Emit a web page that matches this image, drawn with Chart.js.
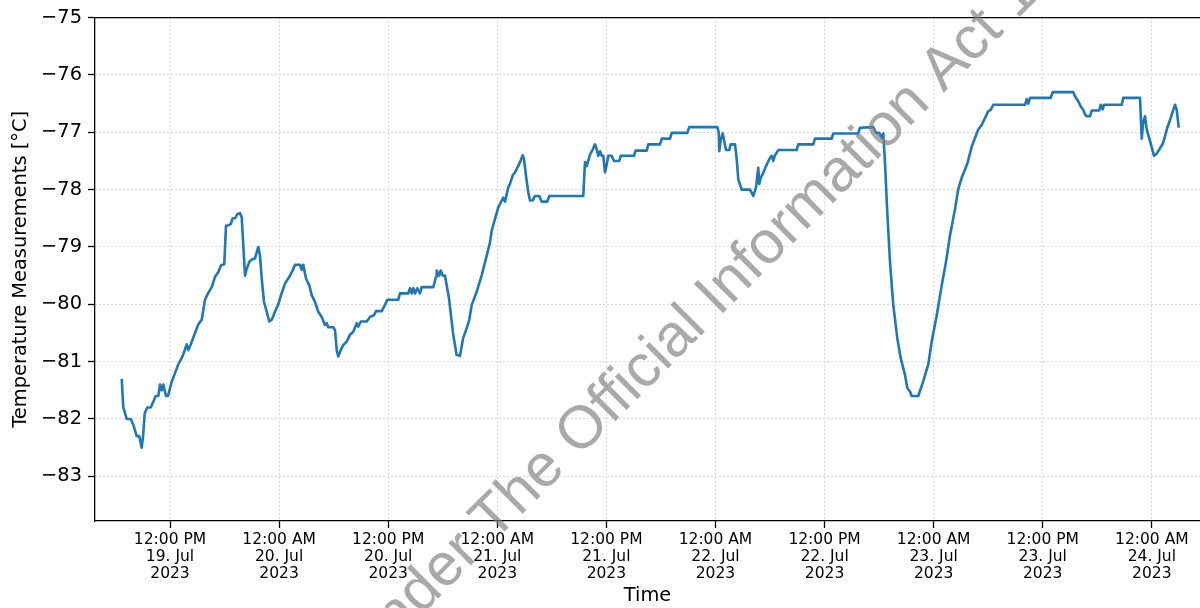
<!DOCTYPE html>
<html>
<head>
<meta charset="utf-8">
<script src="https://cdn.jsdelivr.net/npm/chart.js@4"></script>
<style>
  html, body { margin: 0; padding: 0; background: #ffffff; }
  #c { display: block; }
</style>
</head>
<body>
<canvas id="c" width="1200" height="608"></canvas>
<script>
// Hours since 19 Jul 2023 00:00
const timeHours = [
  6.69,6.86,7.24,7.68,7.96,8.34,8.62,8.89,9.06,9.22,9.50,9.88,10.16,10.43,10.71,10.90,11.09,11.26,11.56,11.78,
  12.19,12.55,12.91,13.40,13.84,14.01,14.28,14.75,15.11,15.49,15.85,16.21,16.59,16.95,17.31,17.61,17.97,18.16,18.41,18.68,
  18.90,19.15,19.40,19.70,19.89,20.00,20.25,20.44,20.72,20.99,21.35,21.71,21.90,22.09,22.34,22.64,22.92,23.19,23.55,23.91,
  24.29,24.65,25.12,25.50,25.75,26.30,26.49,26.66,26.96,27.32,27.59,27.95,28.31,28.69,29.05,29.24,29.41,29.96,30.15,30.34,
  30.51,30.78,31.06,31.44,31.80,32.16,32.54,32.71,32.98,33.64,34.00,34.44,34.66,35.29,35.65,35.90,37.11,37.30,38.21,38.40,
  38.59,38.76,38.95,39.20,39.50,39.69,40.96,41.26,41.34,41.62,41.78,42.00,42.25,42.69,43.13,43.52,43.90,44.23,44.64,44.92,
  45.19,45.74,46.29,46.84,47.20,47.39,47.75,48.11,48.49,48.66,48.85,49.04,49.21,49.40,49.70,49.95,50.20,50.50,50.80,50.94,
  51.16,51.41,51.60,51.90,52.15,52.62,52.89,53.50,53.72,57.46,57.65,57.84,58.01,58.20,58.50,58.75,58.94,59.11,59.30,59.49,
  59.66,59.85,60.04,60.21,60.59,60.84,61.42,61.58,63.04,63.21,64.44,64.61,65.90,66.09,67.00,67.19,68.90,69.12,72.20,72.36,
  72.42,72.58,72.80,72.94,73.16,73.52,73.68,74.15,74.34,74.51,74.89,75.80,76.16,76.46,76.71,76.82,76.98,77.20,77.56,77.92,
  78.19,78.36,78.55,78.91,80.94,81.11,82.76,82.95,84.79,84.96,87.71,87.90,89.36,89.66,90.02,90.29,90.46,90.65,90.90,91.20,
  91.56,92.00,92.38,92.85,93.10,93.40,93.59,94.31,94.86,95.41,95.79,96.34,96.89,97.36,97.80,98.35,98.71,99.09,99.45,99.70,
  100.19,100.55,100.91,101.29,101.65,102.01,102.28,102.56,106.05,106.24,106.41,106.60,108.88,109.10,111.36,111.55,111.91,112.18,112.46,112.65,
  112.84,113.20,113.39,114.22,114.38,114.60,114.74,116.69,116.86,118.70,118.89,119.06,119.25,119.44,119.80,120.24,120.54,120.82,121.20,121.45,
  121.70,122.08,122.36,122.55,122.74,122.96
];
const temperatureC = [
  -81.3,-81.8,-82.0,-82.0,-82.1,-82.3,-82.3,-82.5,-82.26,-81.9,-81.8,-81.8,-81.7,-81.6,-81.6,-81.4,-81.5,-81.4,-81.6,-81.6,
  -81.35,-81.2,-81.05,-80.9,-80.7,-80.8,-80.7,-80.5,-80.35,-80.27,-79.92,-79.8,-79.7,-79.52,-79.44,-79.32,-79.3,-78.63,-78.62,-78.6,
  -78.5,-78.5,-78.43,-78.41,-78.48,-78.8,-79.5,-79.38,-79.26,-79.22,-79.2,-79.0,-79.15,-79.55,-79.96,-80.13,-80.3,-80.27,-80.13,-80.0,
  -79.8,-79.64,-79.52,-79.41,-79.31,-79.31,-79.4,-79.31,-79.55,-79.67,-79.84,-79.96,-80.13,-80.22,-80.36,-80.33,-80.4,-80.4,-80.45,-80.8,
  -80.91,-80.8,-80.71,-80.65,-80.53,-80.48,-80.33,-80.39,-80.3,-80.3,-80.22,-80.19,-80.12,-80.12,-80.01,-79.92,-79.92,-79.81,-79.81,-79.72,
  -79.81,-79.72,-79.81,-79.72,-79.81,-79.7,-79.7,-79.52,-79.41,-79.5,-79.41,-79.5,-79.5,-79.9,-80.5,-80.88,-80.9,-80.6,-80.41,-80.27,
  -80.01,-79.78,-79.49,-79.15,-78.92,-78.71,-78.51,-78.31,-78.19,-78.14,-78.21,-78.08,-77.96,-77.9,-77.75,-77.7,-77.62,-77.52,-77.4,-77.47,
  -77.76,-78.05,-78.19,-78.19,-78.11,-78.11,-78.21,-78.21,-78.11,-78.11,-77.52,-77.59,-77.5,-77.39,-77.3,-77.21,-77.3,-77.41,-77.33,-77.41,
  -77.41,-77.7,-77.56,-77.41,-77.41,-77.5,-77.5,-77.41,-77.41,-77.32,-77.32,-77.21,-77.21,-77.11,-77.11,-77.01,-77.01,-76.91,-76.91,-77.0,
  -77.33,-77.13,-77.02,-77.13,-77.31,-77.31,-77.21,-77.21,-77.47,-77.82,-78.0,-78.0,-78.11,-77.96,-77.62,-77.9,-77.79,-77.73,-77.59,-77.47,
  -77.41,-77.5,-77.4,-77.31,-77.31,-77.21,-77.21,-77.11,-77.11,-77.02,-77.02,-76.92,-76.91,-77.01,-77.01,-77.1,-77.02,-77.53,-78.4,-79.26,
  -80.01,-80.59,-80.94,-81.23,-81.46,-81.52,-81.6,-81.6,-81.34,-81.05,-80.65,-80.19,-79.67,-79.26,-78.8,-78.34,-77.99,-77.79,-77.65,-77.55,
  -77.25,-77.1,-76.95,-76.87,-76.75,-76.63,-76.61,-76.52,-76.52,-76.42,-76.5,-76.4,-76.4,-76.3,-76.3,-76.37,-76.46,-76.55,-76.61,-76.69,
  -76.72,-76.72,-76.62,-76.62,-76.52,-76.6,-76.52,-76.52,-76.4,-76.4,-77.11,-76.81,-76.72,-76.95,-77.15,-77.41,-77.37,-77.3,-77.2,-77.07,
  -76.92,-76.75,-76.61,-76.52,-76.61,-76.92
];
const xTickHours = [12, 24, 36, 48, 60, 72, 84, 96, 108, 120];
const xTickLabels = [
  ["12:00 PM", "19. Jul", "2023"],
  ["12:00 AM", "20. Jul", "2023"],
  ["12:00 PM", "20. Jul", "2023"],
  ["12:00 AM", "21. Jul", "2023"],
  ["12:00 PM", "21. Jul", "2023"],
  ["12:00 AM", "22. Jul", "2023"],
  ["12:00 PM", "22. Jul", "2023"],
  ["12:00 AM", "23. Jul", "2023"],
  ["12:00 PM", "23. Jul", "2023"],
  ["12:00 AM", "24. Jul", "2023"]
];
const yTickValues = [-83, -82, -81, -80, -79, -78, -77, -76, -75];
const xLabel = "Time";
const yLabel = "Temperature Measurements [°C]";
const watermarkText = "Released under The Official Information Act 1982";

const points = timeHours.map((h, i) => ({ x: h, y: temperatureC[i] }));
const FONT = '"DejaVu Sans", sans-serif';

const topSpine = {
  id: 'topSpine',
  afterDraw(chart) {
    const { ctx, chartArea } = chart;
    ctx.save();
    ctx.strokeStyle = '#000';
    ctx.lineWidth = 1.3;
    ctx.beginPath();
    ctx.moveTo(chartArea.left, chartArea.top);
    ctx.lineTo(chartArea.right, chartArea.top);
    ctx.stroke();
    ctx.restore();
  }
};

const watermark = {
  id: 'watermark',
  afterDraw(chart) {
    const ctx = chart.ctx;
    ctx.save();
    const size = 60;
    ctx.font = size + 'px "Liberation Sans", Arial, sans-serif';
    ctx.fillStyle = 'rgba(128,128,128,0.68)';
    ctx.textBaseline = 'alphabetic';
    ctx.translate(580, 426);
    ctx.rotate(-45 * Math.PI / 180);
    const pre = ctx.measureText('Released under The ').width;
    const oHalf = ctx.measureText('O').width / 2;
    ctx.fillText(watermarkText, -(pre + oHalf), size * 0.358);
    ctx.restore();
  }
};

const gridCommon = {
  color: '#cccccc',
  lineWidth: 1,
  drawTicks: true,
  tickLength: 7,
  tickColor: '#000',
  tickWidth: 1.3,
  tickBorderDash: []
};
const borderCommon = { display: true, color: '#000', width: 1.3, dash: [1.5, 2.5] };

new Chart(document.getElementById('c'), {
  type: 'line',
  data: {
    datasets: [{
      data: points,
      borderColor: '#1f77b4',
      borderWidth: 2.6,
      pointRadius: 0,
      tension: 0,
      fill: false,
      borderJoinStyle: 'round'
    }]
  },
  options: {
    responsive: false,
    animation: false,
    layout: { padding: { top: 14, right: 0, bottom: 0, left: 0 } },
    plugins: { legend: { display: false }, tooltip: { enabled: false } },
    scales: {
      x: {
        type: 'linear',
        min: 3.75,
        max: 125.3,
        afterBuildTicks: (s) => { s.ticks = xTickHours.map(v => ({ value: v })); },
        afterFit: (s) => { s.height = 87; },
        ticks: {
          autoSkip: false,
          maxRotation: 0,
          minRotation: 0,
          padding: 3,
          color: '#000',
          font: { family: FONT, size: 15.5, lineHeight: 1.12 },
          callback: (v) => { const i = xTickHours.indexOf(v); return i >= 0 ? xTickLabels[i] : ''; }
        },
        grid: gridCommon,
        border: borderCommon,
        title: {
          display: true, text: xLabel, color: '#000',
          font: { family: FONT, size: 19.4, lineHeight: 1.2 },
          padding: { top: 0, bottom: 0 }
        }
      },
      y: {
        type: 'linear',
        min: -83.78,
        max: -75,
        afterBuildTicks: (s) => { s.ticks = yTickValues.map(v => ({ value: v })); },
        afterFit: (s) => { s.width = 95; },
        ticks: {
          padding: 6,
          color: '#000',
          font: { family: FONT, size: 19.4 },
          callback: (v) => (v < 0 ? '\u2212' + Math.abs(v) : String(v))
        },
        grid: gridCommon,
        border: borderCommon,
        title: {
          display: true, text: yLabel, color: '#000',
          font: { family: FONT, size: 19.4, lineHeight: 1.2 },
          padding: { top: 9, bottom: 0 }
        }
      }
    }
  },
  plugins: [topSpine, watermark]
});
</script>
</body>
</html>
